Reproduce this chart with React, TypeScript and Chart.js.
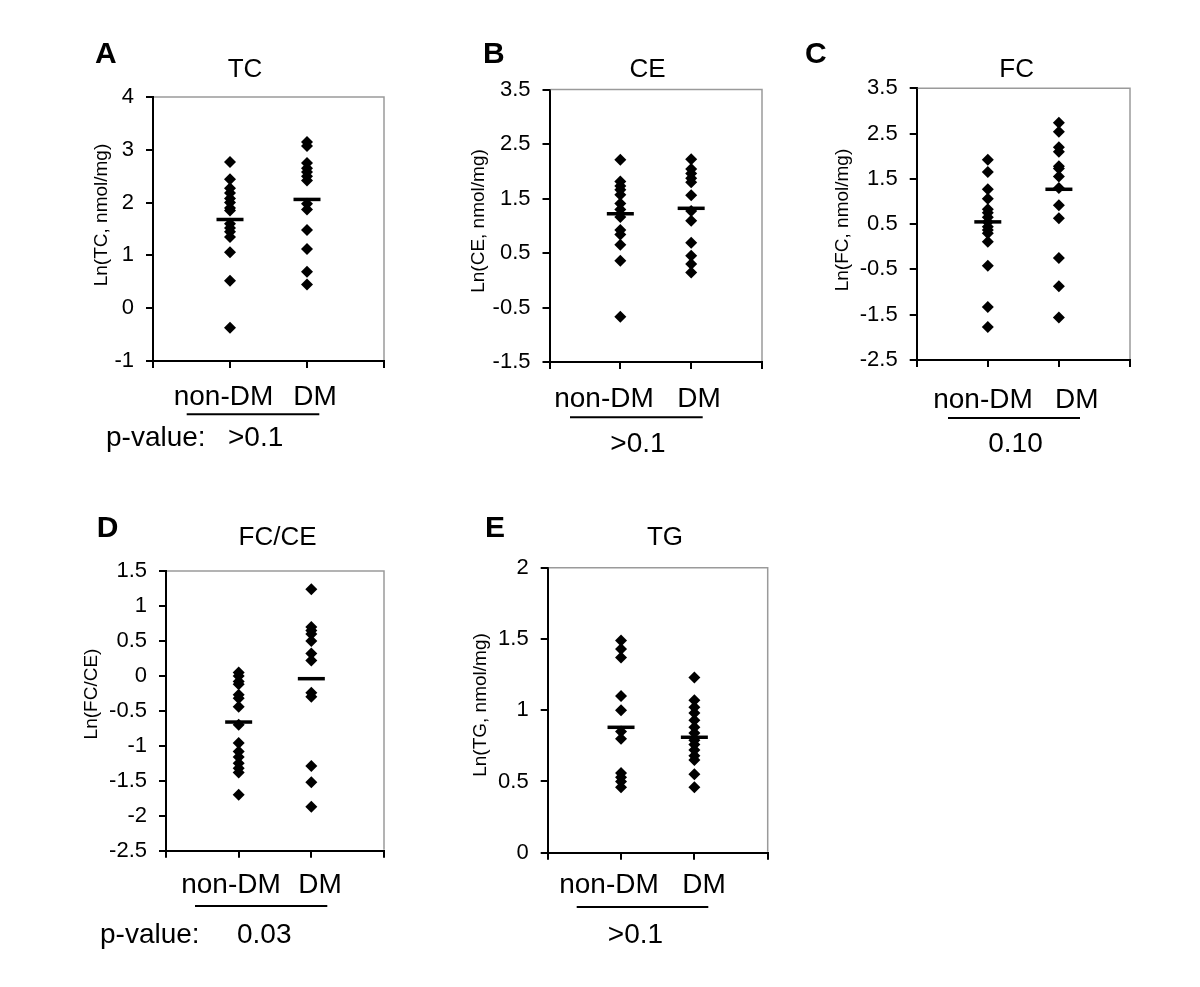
import React, { useEffect, useRef } from "react";
import { Chart, registerables } from "chart.js";

Chart.register(...registerables);

const FONT = "'Liberation Sans', Arial, Helvetica, sans-serif";

// ---------- data ----------
const groups = ["non-DM", "DM"];

const tcNonDM = [2.77, 2.44, 2.27, 2.18, 2.08, 2.0, 1.9, 1.85, 1.6, 1.52, 1.45, 1.35, 1.06, 0.52, -0.37];
const tcDM = [3.15, 3.07, 2.75, 2.65, 2.58, 2.5, 2.42, 1.98, 1.87, 1.48, 1.12, 0.69, 0.45];
const tcMean = [1.68, 2.06];

const ceNonDM = [2.21, 1.81, 1.73, 1.66, 1.57, 1.41, 1.3, 1.16, 0.92, 0.84, 0.65, 0.36, -0.67];
const ceDM = [2.22, 2.04, 1.96, 1.87, 1.8, 1.56, 1.27, 1.09, 0.69, 0.45, 0.3, 0.14];
const ceMean = [1.22, 1.32];

const fcNonDM = [1.92, 1.65, 1.27, 1.06, 0.83, 0.75, 0.65, 0.55, 0.44, 0.37, 0.3, 0.11, -0.42, -1.33, -1.77];
const fcDM = [2.74, 2.54, 2.2, 2.1, 1.78, 1.73, 1.55, 1.3, 0.92, 0.63, -0.25, -0.87, -1.56];
const fcMean = [0.55, 1.27];

const ratioNonDM = [0.05, 0.0, -0.08, -0.12, -0.27, -0.32, -0.44, -0.7, -0.96, -1.08, -1.16, -1.25, -1.32, -1.38, -1.7];
const ratioDM = [1.24, 0.7, 0.65, 0.6, 0.5, 0.32, 0.22, -0.24, -0.3, -1.29, -1.52, -1.87];
const ratioMean = [-0.66, -0.04];

const tgNonDM = [1.49, 1.43, 1.37, 1.1, 1.0, 0.85, 0.8, 0.56, 0.53, 0.5, 0.46];
const tgDM = [1.23, 1.07, 1.02, 0.98, 0.93, 0.88, 0.84, 0.79, 0.76, 0.72, 0.68, 0.65, 0.55, 0.46];
const tgMean = [0.88, 0.81];

// y-axis ranges: [min, max, step]
const tcAxis = [-1, 4, 1];
const ceAxis = [-1.5, 3.5, 1];
const fcAxis = [-2.5, 3.5, 1];
const ratioAxis = [-2.5, 1.5, 0.5];
const tgAxis = [0, 2, 0.5];

const panelLetters = ["A", "B", "C", "D", "E"];
const panelTitles = ["TC", "CE", "FC", "FC/CE", "TG"];
const yTitles = ["Ln(TC, nmol/mg)", "Ln(CE, nmol/mg)", "Ln(FC, nmol/mg)", "Ln(FC/CE)", "Ln(TG, nmol/mg)"];
const pLabel = "p-value:";
const pValues = [">0.1", ">0.1", "0.10", "0.03", ">0.1"];

const seriesNonDM = [tcNonDM, ceNonDM, fcNonDM, ratioNonDM, tgNonDM];
const seriesDM = [tcDM, ceDM, fcDM, ratioDM, tgDM];
const seriesMean = [tcMean, ceMean, fcMean, ratioMean, tgMean];
const axes = [tcAxis, ceAxis, fcAxis, ratioAxis, tgAxis];

// ---------- layout (page pixels) ----------
type Layout = {
  area: [number, number, number, number];
  letter: [number, number];
  title: [number, number];
  yTitle: [number, number];
  labX: [number, number];
  labY: number;
  line: [number, number, number];
  pLabelPos: [number, number] | null;
  pValuePos: [number, number];
  pAlign: CanvasTextAlign;
};

const layouts: Layout[] = [
  {
    area: [153, 97, 384, 361], letter: [95, 63], title: [245, 77], yTitle: [101.7, 215],
    labX: [223.5, 315], labY: 405, line: [186.7, 319.3, 414.3],
    pLabelPos: [106, 446], pValuePos: [228, 446], pAlign: "left",
  },
  {
    area: [549.5, 89.5, 762, 362], letter: [483, 63], title: [647.5, 77], yTitle: [479, 221],
    labX: [604, 699], labY: 406.7, line: [570, 702.7, 417.3],
    pLabelPos: null, pValuePos: [638, 451.7], pAlign: "center",
  },
  {
    area: [916.7, 88.3, 1130, 360], letter: [805, 63], title: [1016.7, 77], yTitle: [842.5, 220],
    labX: [983, 1076.7], labY: 408, line: [948, 1080, 418],
    pLabelPos: null, pValuePos: [1015.5, 452], pAlign: "center",
  },
  {
    area: [166, 571, 384, 850.7], letter: [96.7, 537], title: [277.5, 545], yTitle: [91.7, 694],
    labX: [231, 320], labY: 893.3, line: [195, 327.3, 906],
    pLabelPos: [100, 943], pValuePos: [237, 943], pAlign: "left",
  },
  {
    area: [547.7, 567.7, 767.7, 852.7], letter: [485, 537], title: [665, 545], yTitle: [480.8, 705],
    labX: [609, 704], labY: 893, line: [576.7, 708.3, 907],
    pLabelPos: null, pValuePos: [635.5, 943], pAlign: "center",
  },
];

const W = 1200;
const H = 987;
const Y_AXIS_W = 60;
const X_AXIS_H = 20;

function makeDecor(i: number) {
  const L = layouts[i];
  return {
    id: "decor" + i,
    beforeDatasetsDraw(chart: any) {
      const a = chart.chartArea;
      const ctx = chart.ctx;
      ctx.save();
      ctx.strokeStyle = "#9a9a9a";
      ctx.lineWidth = 1.5;
      ctx.beginPath();
      ctx.moveTo(a.left + 1, a.top);
      ctx.lineTo(a.right, a.top);
      ctx.lineTo(a.right, a.bottom - 1);
      ctx.stroke();
      ctx.restore();
    },
    afterDraw(chart: any) {
      const ctx = chart.ctx;
      ctx.save();
      ctx.fillStyle = "#000";
      ctx.textBaseline = "alphabetic";
      // panel letter
      ctx.font = `bold 30px ${FONT}`;
      ctx.textAlign = "left";
      ctx.fillText(panelLetters[i], L.letter[0], L.letter[1]);
      // title
      ctx.font = `26px ${FONT}`;
      ctx.textAlign = "center";
      ctx.fillText(panelTitles[i], L.title[0], L.title[1]);
      // group labels
      ctx.font = `28px ${FONT}`;
      ctx.fillText(groups[0], L.labX[0], L.labY);
      ctx.fillText(groups[1], L.labX[1], L.labY);
      // underline
      ctx.strokeStyle = "#000";
      ctx.lineWidth = 2;
      ctx.beginPath();
      ctx.moveTo(L.line[0], L.line[2]);
      ctx.lineTo(L.line[1], L.line[2]);
      ctx.stroke();
      // p-values
      ctx.font = `28px ${FONT}`;
      if (L.pLabelPos) {
        ctx.textAlign = "left";
        ctx.fillText(pLabel, L.pLabelPos[0], L.pLabelPos[1]);
      }
      ctx.textAlign = L.pAlign;
      ctx.fillText(pValues[i], L.pValuePos[0], L.pValuePos[1]);
      // y title
      ctx.translate(L.yTitle[0], L.yTitle[1]);
      ctx.rotate(-Math.PI / 2);
      ctx.font = `19px ${FONT}`;
      ctx.textAlign = "center";
      ctx.textBaseline = "middle";
      ctx.fillText(yTitles[i], 0, 0);
      ctx.restore();
    },
  };
}

function Panel({ index }: { index: number }) {
  const ref = useRef<HTMLCanvasElement | null>(null);
  useEffect(() => {
    if (!ref.current) return;
    const L = layouts[index];
    const [ymin, ymax, ystep] = axes[index];
    const chart = new Chart(ref.current, {
      type: "scatter",
      data: {
        datasets: [
          {
            label: "mean",
            data: seriesMean[index].map((v, k) => ({ x: k + 1, y: v })),
            pointStyle: "line",
            pointRadius: 13.5,
            borderWidth: 3.5,
            borderColor: "#000",
            backgroundColor: "#000",
            clip: false,
          },
          {
            label: groups[0],
            data: seriesNonDM[index].map((v) => ({ x: 1, y: v })),
            pointStyle: "rectRot",
            pointRadius: 6,
            borderWidth: 0,
            backgroundColor: "#000",
            borderColor: "#000",
            clip: false,
          },
          {
            label: groups[1],
            data: seriesDM[index].map((v) => ({ x: 2, y: v })),
            pointStyle: "rectRot",
            pointRadius: 6,
            borderWidth: 0,
            backgroundColor: "#000",
            borderColor: "#000",
            clip: false,
          },
        ],
      } as any,
      options: {
        animation: false,
        responsive: false,
        devicePixelRatio: 1,
        events: [],
        layout: {
          padding: {
            left: L.area[0] - Y_AXIS_W,
            top: L.area[1],
            right: W - L.area[2],
            bottom: H - L.area[3] - X_AXIS_H,
          },
        },
        plugins: {
          legend: { display: false },
          title: { display: false },
          tooltip: { enabled: false },
        },
        scales: {
          x: {
            type: "linear",
            min: 0,
            max: 3,
            afterFit: (s: any) => {
              s.height = X_AXIS_H;
            },
            ticks: { stepSize: 1, callback: () => "", padding: 0 },
            grid: {
              drawOnChartArea: false,
              drawTicks: true,
              tickLength: 7,
              color: "#000",
              lineWidth: 2,
            },
            border: { display: true, color: "#000", width: 2 },
          },
          y: {
            type: "linear",
            min: ymin,
            max: ymax,
            afterFit: (s: any) => {
              s.width = Y_AXIS_W;
            },
            ticks: {
              stepSize: ystep,
              color: "#000",
              padding: 12,
              font: { size: 22, family: FONT },
              callback: (v: any) => String(v),
            },
            grid: {
              drawOnChartArea: false,
              drawTicks: true,
              tickLength: 7,
              color: "#000",
              lineWidth: 2,
            },
            border: { display: true, color: "#000", width: 2 },
          },
        },
      } as any,
      plugins: [makeDecor(index)],
    });
    return () => chart.destroy();
  }, [index]);
  return (
    <canvas
      ref={ref}
      width={W}
      height={H}
      style={{ position: "absolute", left: 0, top: 0, width: W, height: H }}
    />
  );
}

export default function App() {
  return (
    <div
      style={{
        position: "absolute",
        left: 0,
        top: 0,
        width: W,
        height: H,
        background: "#fff",
        overflow: "hidden",
      }}
    >
      {[0, 1, 2, 3, 4].map((i) => (
        <Panel key={i} index={i} />
      ))}
    </div>
  );
}
